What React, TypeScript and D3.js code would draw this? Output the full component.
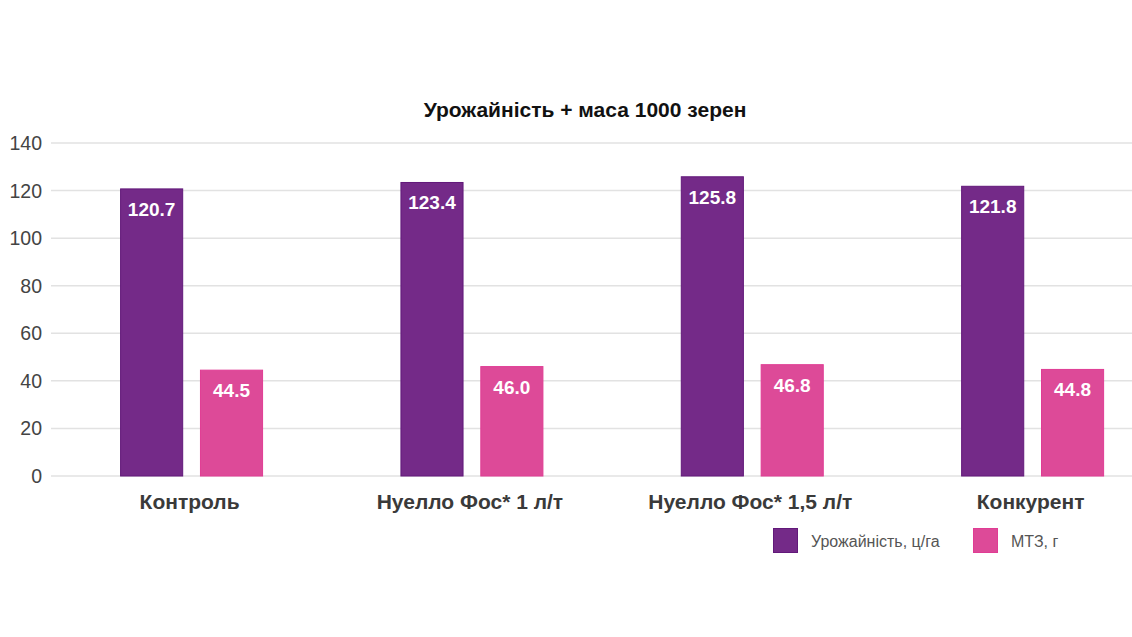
import React from "react";
import * as d3 from "d3";

const categories = ["Контроль", "Нуелло Фос* 1 л/т", "Нуелло Фос* 1,5 л/т", "Конкурент"];
const seriesNames = ["Урожайність, ц/га", "МТЗ, г"];
const yieldValues = [120.7, 123.4, 125.8, 121.8];
const tkwValues = [44.5, 46.0, 46.8, 44.8];
const yTicks = [0, 20, 40, 60, 80, 100, 120, 140];
const title = "Урожайність + маса 1000 зерен";

const W = 1132;
const H = 637;
const FONT = "'Liberation Sans', Arial, Helvetica, sans-serif";
const fills = ["#742a88", "#dd4a98"];
const strokes = ["#62197a", "#e03c94"];

export default function App() {
  const x0 = d3.scaleBand<string>().domain(categories).range([51.4, 1172.8]).paddingInner(0.49).paddingOuter(0.245);
  const x1 = d3.scaleBand<string>().domain(seriesNames).range([0, x0.bandwidth()]).paddingInner(0.21);
  const y = d3.scaleLinear().domain([0, 140]).range([476, 143]);
  const series = [yieldValues, tkwValues];

  return (
    <svg width={W} height={H} style={{ position: "fixed", left: 0, top: 0, background: "#fff" }} fontFamily={FONT}>
      <rect width={W} height={H} fill="#fff" />
      <text x={585} y={117} textAnchor="middle" fontSize={21} fontWeight="bold" fill="#111">{title}</text>
      {yTicks.map((t) => (
        <g key={t}>
          <line x1={51} x2={W} y1={y(t)} y2={y(t)} stroke="#e2e2e2" strokeWidth={1.5} />
          <text x={42} y={y(t) + 7} textAnchor="end" fontSize={19.5} fill="#444">{t}</text>
        </g>
      ))}
      {categories.map((c, i) => (
        <g key={c} transform={`translate(${x0(c)},0)`}>
          {seriesNames.map((s, j) => {
            const v = series[j][i];
            const bx = x1(s)!;
            const bw = x1.bandwidth();
            return (
              <g key={s}>
                <rect x={bx + 0.5} y={y(v)} width={bw - 1} height={y(0) - y(v)} fill={fills[j]} stroke={strokes[j]} strokeWidth={1} />
                <text x={bx + bw / 2} y={y(v) + 27} textAnchor="middle" fontSize={19} fontWeight="bold" fill="#fff">{v.toFixed(1)}</text>
              </g>
            );
          })}
          <text x={x0.bandwidth() / 2 - 2} y={509} textAnchor="middle" fontSize={21} fontWeight="bold" fill="#3a3a3a">{c}</text>
        </g>
      ))}
      {seriesNames.map((s, j) => {
        const lx = j === 0 ? 773 : 973;
        return (
          <g key={s}>
            <rect x={lx + 0.5} y={528.5} width={24} height={24} fill={fills[j]} stroke={strokes[j]} strokeWidth={1} />
            <text x={lx + 38} y={547} fontSize={16} fill="#555">{s}</text>
          </g>
        );
      })}
    </svg>
  );
}
